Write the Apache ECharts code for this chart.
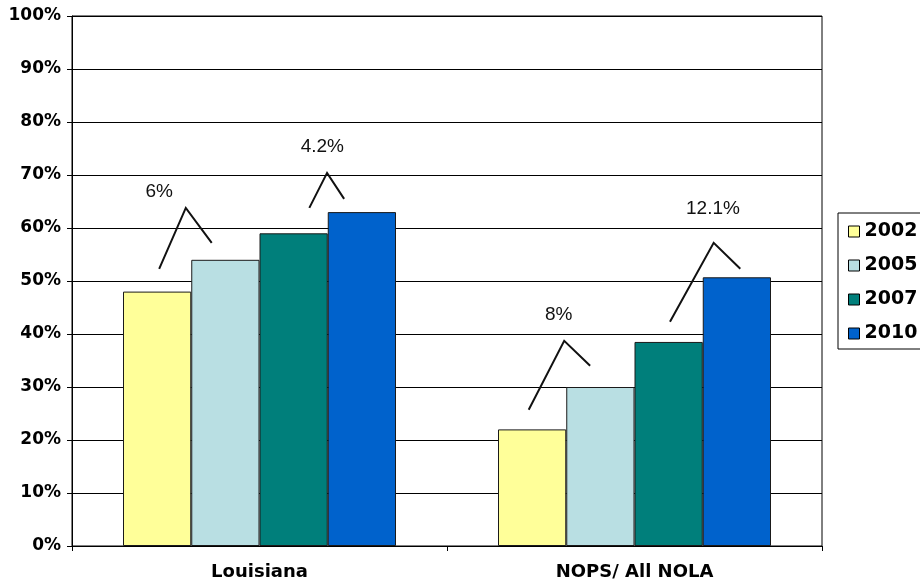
<!DOCTYPE html>
<html>
<head>
<meta charset="utf-8">
<script src="https://cdn.jsdelivr.net/npm/echarts@6/dist/echarts.min.js"></script>
<style>
  html, body { margin: 0; padding: 0; background: #fff; }
  #chart { width: 920px; height: 587px; }
</style>
</head>
<body>
<div id="chart"></div>
<script>
// ---- Data ----
const categories = ['Louisiana', 'NOPS/ All NOLA'];
const seriesNames = ['2002', '2005', '2007', '2010'];
const values2002 = [48, 22];
const values2005 = [54, 30];
const values2007 = [59, 38.5];
const values2010 = [63, 50.7];
const yTickLabels = ['0%', '10%', '20%', '30%', '40%', '50%', '60%', '70%', '80%', '90%', '100%'];

// Growth annotations (chevrons): category, label, y-values (%) of start, peak, end, label
const annotationLabels = ['6%', '4.2%', '8%', '12.1%'];
const annotationCategory = [0, 0, 1, 1];
const annotationStart = [52.3, 63.8, 25.7, 42.3];
const annotationPeak = [63.8, 70.4, 38.7, 57.2];
const annotationEnd = [57.2, 65.5, 34.0, 52.3];
const annotationLabelY = [66.8, 75.3, 43.6, 63.6];

// ---- Layout (horizontal offsets of annotation points, in bar widths from group start) ----
const annotationLayoutX = [
  [0.53, 0.92, 1.30, 0.53],
  [2.73, 2.99, 3.24, 2.92],
  [0.45, 0.97, 1.35, 0.89],
  [2.52, 3.16, 3.55, 3.15]
];
const BAR_FRACTION = 0.182;

const colors = ['#FFFF99', '#B9DFE3', '#007F7B', '#0062CC'];
const valueSets = [values2002, values2005, values2007, values2010];

const chart = echarts.init(document.getElementById('chart'), null, { renderer: 'canvas' });

const barSeries = seriesNames.map((name, i) => ({
  name: name,
  type: 'bar',
  data: valueSets[i],
  barWidth: (BAR_FRACTION * 100) + '%',
  barGap: '0%',
  itemStyle: { color: colors[i], borderColor: '#1a1a1a', borderWidth: 1 },
  emphasis: { disabled: true },
  z: 2
}));

const annotationData = annotationLabels.map((lab, i) => [
  annotationCategory[i], annotationStart[i], annotationPeak[i], annotationEnd[i], annotationLabelY[i], i
]);

const annotationSeries = {
  type: 'custom',
  name: 'growth',
  data: annotationData,
  silent: true,
  z: 5,
  renderItem: function (params, api) {
    const cat = api.value(0);
    const idx = api.value(5);
    const center = api.coord([cat, 0])[0];
    const band = api.size([1, 0])[0];
    const bw = band * BAR_FRACTION;
    const gx = center - 2 * bw;
    const lx = annotationLayoutX[idx];
    const y = v => api.coord([cat, v])[1];
    const pts = [
      [gx + lx[0] * bw, y(api.value(1))],
      [gx + lx[1] * bw, y(api.value(2))],
      [gx + lx[2] * bw, y(api.value(3))]
    ];
    return {
      type: 'group',
      children: [
        {
          type: 'polyline',
          shape: { points: pts },
          style: { stroke: '#111', lineWidth: 2, fill: null }
        },
        {
          type: 'text',
          x: gx + lx[3] * bw,
          y: y(api.value(4)),
          style: {
            text: annotationLabels[idx],
            fill: '#111',
            font: '19px "Liberation Sans", Arial, sans-serif',
            align: 'center',
            verticalAlign: 'middle'
          }
        }
      ]
    };
  }
};

const option = {
  backgroundColor: '#ffffff',
  animation: false,
  grid: {
    left: 72, right: 98, top: 16, bottom: 41,
    show: true, borderColor: '#000', borderWidth: 1, backgroundColor: 'transparent'
  },
  legend: {
    data: seriesNames,
    orient: 'vertical',
    left: 838,
    top: 213,
    padding: [9, 60, 6, 10],
    itemGap: 15,
    itemWidth: 11,
    itemHeight: 11,
    icon: 'rect',
    borderColor: '#000',
    borderWidth: 1,
    backgroundColor: '#fff',
    itemStyle: { borderColor: '#000', borderWidth: 1 },
    textStyle: {
      fontFamily: 'DejaVu Sans', fontWeight: 'bold', fontSize: 19, color: '#000'
    },
    selectedMode: false
  },
  xAxis: {
    type: 'category',
    data: categories,
    boundaryGap: true,
    axisLine: { show: true, lineStyle: { color: '#000', width: 1 } },
    axisTick: { show: true, length: 5, interval: 0, lineStyle: { color: '#000' } },
    axisLabel: {
      margin: 17,
      fontFamily: 'DejaVu Sans', fontWeight: 'bold', fontSize: 18, color: '#000'
    },
    splitLine: { show: false }
  },
  yAxis: {
    type: 'value',
    min: 0, max: 100, interval: 10,
    axisLine: { show: true, lineStyle: { color: '#000', width: 1 } },
    axisTick: { show: true, length: 5, lineStyle: { color: '#000' } },
    axisLabel: {
      margin: 11,
      formatter: function (v) { return yTickLabels[Math.round(v / 10)]; },
      fontFamily: 'DejaVu Sans', fontWeight: 'bold', fontSize: 17, color: '#000'
    },
    splitLine: { show: true, lineStyle: { color: '#000', width: 1 } }
  },
  series: barSeries.concat([annotationSeries])
};

chart.setOption(option);
</script>
</body>
</html>
